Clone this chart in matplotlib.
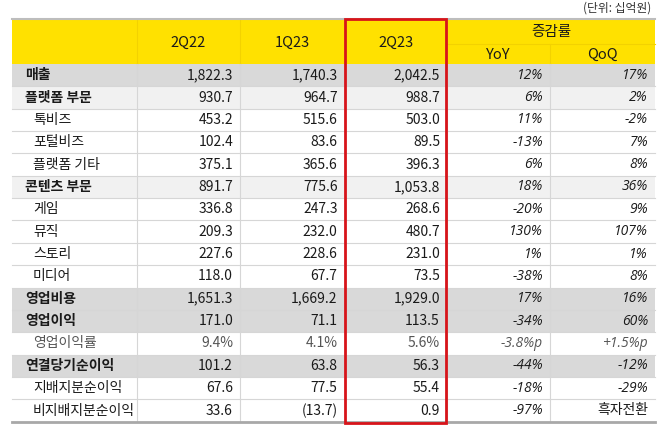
import matplotlib.pyplot as plt
from matplotlib.patches import Rectangle

plt.rcParams['font.family'] = ['Noto Sans CJK KR', 'DejaVu Sans']

# table data (단위: 십억원)
labels = ['매출', '플랫폼 부문', '톡비즈', '포털비즈', '플랫폼 기타', '콘텐츠 부문',
          '게임', '뮤직', '스토리', '미디어', '영업비용', '영업이익', '영업이익률',
          '연결당기순이익', '지배지분순이익', '비지배지분순이익']
kinds = ['total', 'seg', 'sub', 'sub', 'sub', 'seg', 'sub', 'sub', 'sub', 'sub',
         'total', 'total', 'ratio', 'total', 'sub', 'sub']
periods = ['2Q22', '1Q23', '2Q23']
q2_22 = [1822.3, 930.7, 453.2, 102.4, 375.1, 891.7, 336.8, 209.3, 227.6, 118.0,
         1651.3, 171.0, 9.4, 101.2, 67.6, 33.6]
q1_23 = [1740.3, 964.7, 515.6, 83.6, 365.6, 775.6, 247.3, 232.0, 228.6, 67.7,
         1669.2, 71.1, 4.1, 63.8, 77.5, -13.7]
q2_23 = [2042.5, 988.7, 503.0, 89.5, 396.3, 1053.8, 268.6, 480.7, 231.0, 73.5,
         1929.0, 113.5, 5.6, 56.3, 55.4, 0.9]
yoy = ['12%', '6%', '11%', '-13%', '6%', '18%', '-20%', '130%', '1%', '-38%',
       '17%', '-34%', '-3.8%p', '-44%', '-18%', '-97%']
qoq = ['17%', '2%', '-2%', '7%', '8%', '36%', '9%', '107%', '1%', '8%',
       '16%', '60%', '+1.5%p', '-12%', '-29%', '흑자전환']


def fmt(v, kind):
    if kind == 'ratio':
        return f'{v:.1f}%'
    if v < 0:
        return f'({-v:,.1f})'
    return f'{v:,.1f}'


fig = plt.figure(figsize=(6.58, 4.28), dpi=100)
ax = fig.add_axes([0, 0, 1, 1])
ax.set_xlim(0, 658)
ax.set_ylim(428, 0)
ax.axis('off')

col_x = [12, 136.5, 240, 344.5, 447, 550, 655]
head_top, head_mid, head_bot = 19, 44, 64
row_h = (421.7 - head_bot) / len(labels)

yellow = '#FFE100'
fills = {'total': '#D9D9D9', 'seg': '#F1F1F1', 'sub': 'white', 'ratio': 'white'}
line_c = '#D6D6D6'
txt_c = '#1a1a1a'

# header
ax.add_patch(Rectangle((col_x[0], head_top), col_x[-1] - col_x[0], head_bot - head_top,
                       facecolor=yellow, edgecolor='none'))
for i, p in enumerate(periods):
    ax.text((col_x[i + 1] + col_x[i + 2]) / 2, (head_top + head_bot) / 2 + 1, p,
            ha='center', va='center', fontsize=10.5, color=txt_c)
ax.text((col_x[4] + col_x[6]) / 2, 32, '증감률', ha='center', va='center',
        fontsize=10.5, color=txt_c)
ax.text((col_x[4] + col_x[5]) / 2, 55, 'YoY', ha='center', va='center',
        fontsize=10.5, color=txt_c)
ax.text((col_x[5] + col_x[6]) / 2, 55, 'QoQ', ha='center', va='center',
        fontsize=10.5, color=txt_c)
ax.plot([col_x[4], col_x[6]], [head_mid, head_mid], color='#F3D200', lw=0.8)
for x in col_x[1:4]:
    ax.plot([x, x], [head_top, head_bot], color='#F3D200', lw=0.8)
ax.plot([col_x[5], col_x[5]], [head_mid, head_bot], color='#F3D200', lw=0.8)

ax.text(651, 8, '(단위: 십억원)', ha='right', va='center', fontsize=8.5, color='#333333')

# body rows
for r, (lab, kind) in enumerate(zip(labels, kinds)):
    y0 = head_bot + r * row_h
    yc = y0 + row_h / 2
    ax.add_patch(Rectangle((col_x[0], y0), col_x[-1] - col_x[0], row_h,
                           facecolor=fills[kind], edgecolor='none'))
    if r > 0:
        ax.plot([col_x[0], col_x[-1]], [y0, y0], color=line_c, lw=0.8)

    bold = kind in ('total', 'seg')
    color = '#555555' if kind == 'ratio' else txt_c
    lx = 25 if bold else 33
    ax.text(lx, yc, lab, ha='left', va='center', fontsize=10, color=color,
            fontweight='bold' if bold else 'normal',
            style='italic' if kind == 'ratio' else 'normal')

    vals = [q2_22[r], q1_23[r], q2_23[r]]
    for c, v in enumerate(vals):
        ax.text(col_x[c + 2] - 7, yc, fmt(v, kind), ha='right', va='center',
                fontsize=10, color=color,
                style='italic' if kind == 'ratio' else 'normal')
    for c, s in enumerate([yoy[r], qoq[r]]):
        ax.text(col_x[c + 5] - 7, yc, s, ha='right', va='center', fontsize=10,
                color=color, style='italic',
                family=['Open Sans', 'Noto Sans CJK KR'])

# vertical grid lines in body
for x in col_x[1:6]:
    ax.plot([x, x], [head_bot, 421.7], color=line_c, lw=0.8)

# outer borders
ax.plot([col_x[0], col_x[-1]], [head_top, head_top], color='#BDBDBD', lw=1.5)
ax.plot([col_x[0], col_x[-1]], [421.7, 421.7], color='#A8A8A8', lw=2)

# highlight 2Q23 column
ax.add_patch(Rectangle((col_x[3], head_top), col_x[4] - col_x[3] - 1, 423 - head_top,
                       facecolor='none', edgecolor='#D7141A', lw=2, zorder=5))

fig.savefig('out.png', dpi=100)
